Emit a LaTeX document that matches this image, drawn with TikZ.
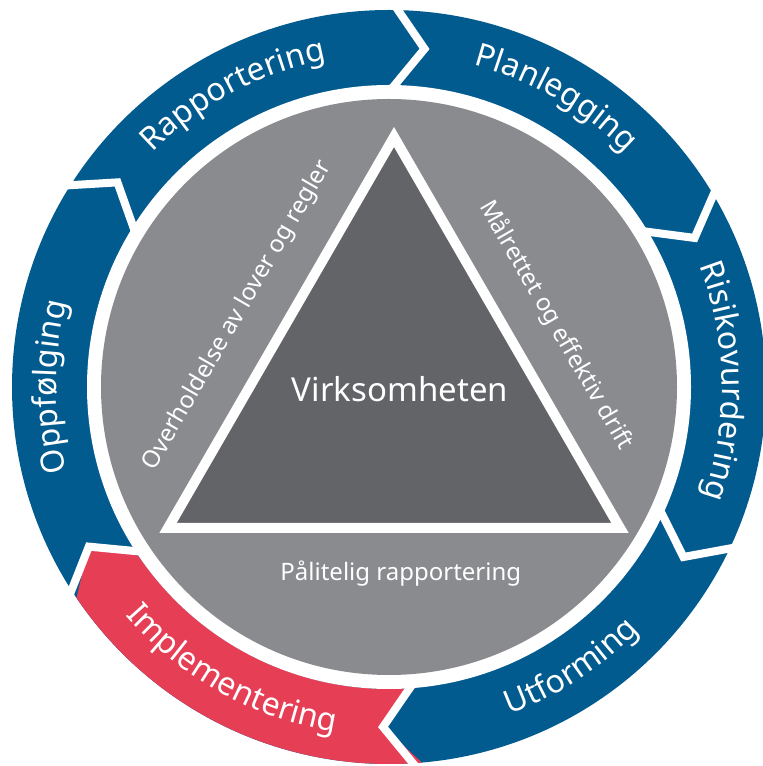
\documentclass[tikz,border=0pt]{standalone}
\usepackage{fontspec}
\setmainfont{Noto Sans}
\usepackage{tikz}
\usetikzlibrary{calc,decorations.text}
\definecolor{ringblaa}{RGB}{2,91,143}
\definecolor{ringrod}{RGB}{230,62,85}
\definecolor{skivegraa}{RGB}{138,139,143}
\definecolor{trekantgraa}{RGB}{99,100,104}
\newcommand{\ringfont}{\fontsize{32}{38}\selectfont}
\tikzstyle{skille} = [draw=white, line width=8pt, line join=miter]
\tikzstyle{sidetekst} = [text=white, font=\fontsize{24}{28}\selectfont, inner sep=0pt]
\tikzstyle{midttekst} = [text=white, font=\fontsize{33}{38}\selectfont, inner sep=0pt]
\newcommand{\medurs}[2]{\path[decorate, decoration={text along path, text align=center, text color=white, text={|\ringfont|#2}}]
	($(sentrum)+({#1+45}:333)$) arc[start angle={#1+45}, end angle={#1-45}, radius=333];}
\newcommand{\moturs}[2]{\path[decorate, decoration={text along path, text align=center, text color=white, text={|\ringfont|#2}}]
	($(sentrum)+({#1-45}:349)$) arc[start angle={#1-45}, end angle={#1+45}, radius=349];}

\begin{document}
\begin{tikzpicture}[x=1pt, y=1pt]
	\useasboundingbox (0,0) rectangle (763,766);
	\coordinate (sentrum) at (389,379);
	\fill[ringblaa] (sentrum) circle[radius=377];
	\fill[ringrod] ($(sentrum)+(-85:377)$) arc[start angle=-85, end angle=-146, radius=377]
		-- ($(sentrum)+(-152:340)$) -- ($(sentrum)+(-146:302)$)
		arc[start angle=-146, end angle=-85, radius=302] -- ($(sentrum)+(-91:340)$) -- cycle;
	\foreach \v in {90,32,-24,-85,-146,149}
		\draw[skille] ($(sentrum)+(\v:390)$) -- ($(sentrum)+({\v-6}:340)$) -- ($(sentrum)+(\v:295)$);
	\fill[white] (sentrum) circle[radius=302];
	\fill[skivegraa] (sentrum) circle[radius=288];
	\coordinate (topp) at (394,629);
	\coordinate (venstre) at (168,238);
	\coordinate (hoyre) at (620,238);
	\filldraw[fill=trekantgraa, draw=white, line width=10pt, line join=miter] (topp) -- (venstre) -- (hoyre) -- cycle;
	\node[midttekst] (virksomheten) at (400,377) {Virksomheten};
	\path (venstre) -- (topp) node[sidetekst, pos=.484, sloped, yshift=46pt] (lover) {Overholdelse av lover og regler};
	\path (topp) -- (hoyre) node[sidetekst, pos=.54, sloped, yshift=46pt] (drift) {Målrettet og effektiv drift};
	\path (venstre) -- (hoyre) node[sidetekst, pos=.515, yshift=-46pt] (rapport) {Pålitelig rapportering};
	\medurs{118}{Rapportering}
	\medurs{60}{Planlegging}
	\medurs{1}{Risikovurdering}
	\medurs{180}{Oppfølging}
	\moturs{-57}{Utforming}
	\moturs{-119}{Implementering}
\end{tikzpicture}
\end{document}
